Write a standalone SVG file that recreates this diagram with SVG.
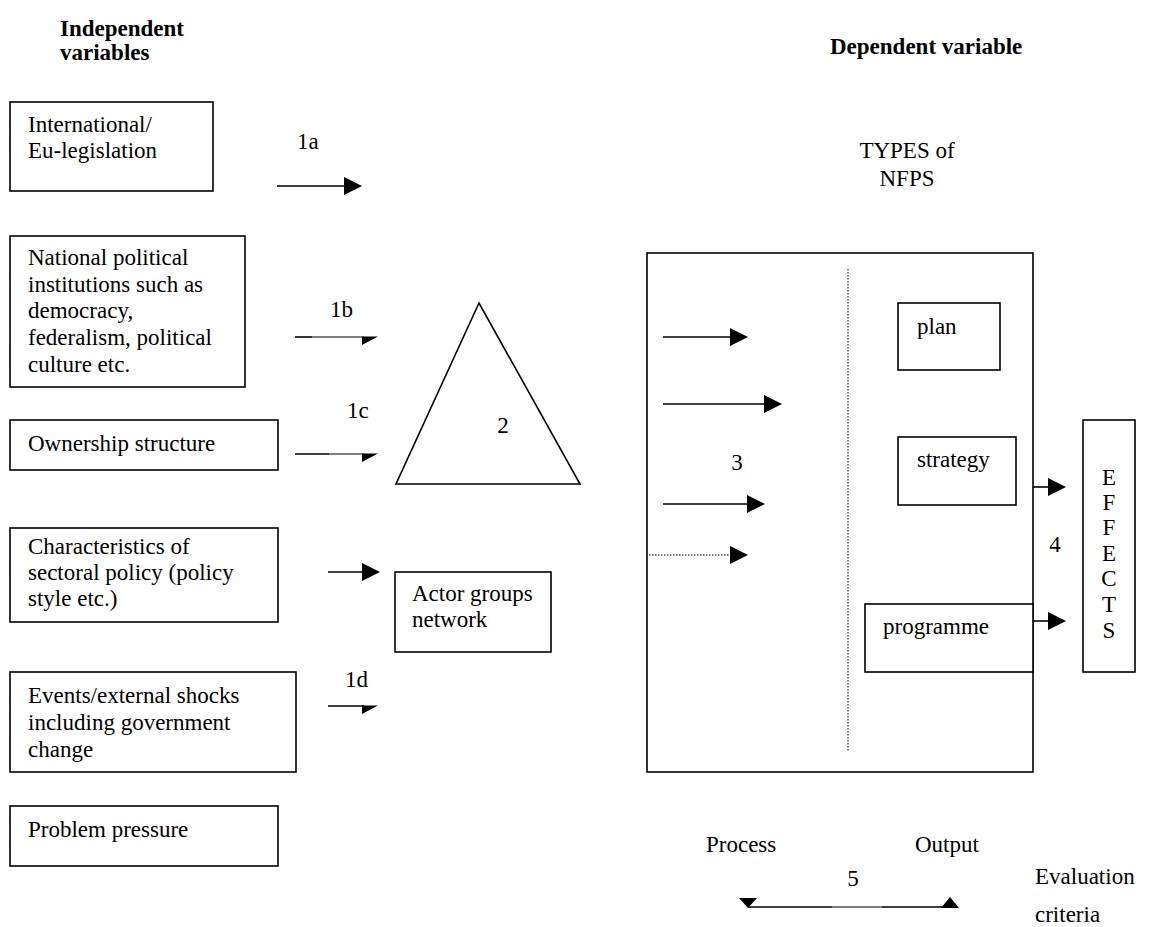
<svg xmlns="http://www.w3.org/2000/svg" width="1154" height="927" viewBox="0 0 1154 927">
<style>
text{font-family:"Liberation Serif","Times New Roman",serif;font-size:23px;fill:#000}
.b{font-weight:bold}
.box{fill:#fff;stroke:#000;stroke-width:1.6}
.ln{stroke:#000;stroke-width:1.6;fill:none}
.thin{stroke:#000;stroke-width:1;fill:none}
.dot{stroke:#000;stroke-width:1;stroke-dasharray:1.5 1.5;fill:none}
.hd{fill:#000}
.c{text-anchor:middle}
</style>
<rect width="1154" height="927" fill="#fff"/>
<g id="titles">
<text class="b" x="60" y="36">Independent</text>
<text class="b" x="60" y="60">variables</text>
<text class="b" x="830" y="54">Dependent variable</text>
</g>
<g id="n-intl"><rect class="box" x="10" y="102" width="203" height="89"/>
<text x="28" y="132">International/</text><text x="28" y="158">Eu-legislation</text></g>
<g id="n-natpol"><rect class="box" x="10" y="236" width="235" height="151"/>
<text x="28" y="265">National political</text><text x="28" y="292">institutions such as</text><text x="28" y="318">democracy,</text><text x="28" y="345">federalism, political</text><text x="28" y="372">culture etc.</text></g>
<g id="n-owner"><rect class="box" x="10" y="420" width="268" height="50"/>
<text x="28" y="451">Ownership structure</text></g>
<g id="n-sector"><rect class="box" x="10" y="528" width="268" height="94"/>
<text x="28" y="554">Characteristics of</text><text x="28" y="580">sectoral policy (policy</text><text x="28" y="606">style etc.)</text></g>
<g id="n-events"><rect class="box" x="10" y="672" width="286" height="100"/>
<text x="28" y="703">Events/external shocks</text><text x="28" y="730">including government</text><text x="28" y="757">change</text></g>
<g id="n-problem"><rect class="box" x="10" y="806" width="268" height="60"/>
<text x="28" y="837">Problem pressure</text></g>
<g id="n-triangle"><polygon class="box" points="479,303 396,484 580,484"/>
<text class="c" x="503" y="433">2</text></g>
<g id="n-actor"><rect class="box" x="395" y="572" width="156" height="80"/>
<text x="412" y="601">Actor groups</text><text x="412" y="627">network</text></g>
<g id="n-nfps">
<text class="c" x="907" y="158">TYPES of</text><text class="c" x="907" y="186">NFPS</text>
<rect class="box" x="647" y="253" width="386" height="519"/>
<line class="dot" x1="848" y1="269" x2="848" y2="752"/>
</g>
<g id="n-plan"><rect class="box" x="898" y="303" width="102" height="67"/><text x="917" y="334">plan</text></g>
<g id="n-strategy"><rect class="box" x="898" y="437" width="118" height="68"/><text x="917" y="467">strategy</text></g>
<g id="n-programme"><rect class="box" x="865" y="604" width="168" height="68"/><text x="883" y="634">programme</text></g>
<g id="n-effects"><rect class="box" x="1083" y="420" width="52" height="252"/>
<text class="c" x="1109" y="485">E</text><text class="c" x="1109" y="510">F</text><text class="c" x="1109" y="535">F</text><text class="c" x="1109" y="561">E</text><text class="c" x="1109" y="586">C</text><text class="c" x="1109" y="612">T</text><text class="c" x="1109" y="638">S</text></g>
<g id="connectors">
<text x="297" y="149">1a</text>
<line class="ln" x1="277" y1="186" x2="346" y2="186"/><polygon class="hd" points="344,177 362,186 344,195"/>
<text x="330" y="317">1b</text>
<line class="ln" x1="295" y1="337" x2="312" y2="337"/><line class="thin" x1="312" y1="337" x2="364" y2="337"/><polygon class="hd" points="362,336.5 378,336.5 362,345"/>
<text x="347" y="418">1c</text>
<line class="ln" x1="295" y1="454" x2="329" y2="454"/><line class="thin" x1="329" y1="454" x2="364" y2="454"/><polygon class="hd" points="362,453.5 378,453.5 362,462"/>
<line class="ln" x1="328" y1="572" x2="364" y2="572"/><polygon class="hd" points="362,563 380,572 362,581"/>
<text x="345" y="687">1d</text>
<line class="ln" x1="328" y1="706" x2="364" y2="706"/><polygon class="hd" points="362,705.5 378,705.5 362,714"/>
<line class="ln" x1="663" y1="337" x2="732" y2="337"/><polygon class="hd" points="730,328 748,337 730,346"/>
<line class="ln" x1="663" y1="404" x2="766" y2="404"/><polygon class="hd" points="764,395 782,404 764,413"/>
<text class="c" x="737" y="470">3</text>
<line class="ln" x1="663" y1="504" x2="749" y2="504"/><polygon class="hd" points="747,495 765,504 747,513"/>
<line class="dot" x1="649" y1="555" x2="732" y2="555"/><polygon class="hd" points="730,546 748,555 730,564"/>
<line class="ln" x1="1033" y1="487" x2="1050" y2="487"/><polygon class="hd" points="1048,478 1066,487 1048,496"/>
<line class="ln" x1="1033" y1="621" x2="1050" y2="621"/><polygon class="hd" points="1048,612 1066,621 1048,630"/>
<text class="c" x="1055" y="552">4</text>
</g>
<g id="evaluation">
<text x="706" y="852">Process</text>
<text x="915" y="852">Output</text>
<text class="c" x="853" y="886">5</text>
<line class="ln" x1="748" y1="907" x2="832" y2="907"/><line class="thin" x1="832" y1="907" x2="882" y2="907"/><line class="ln" x1="882" y1="907" x2="943" y2="907"/>
<polygon class="hd" points="739,898 757,898 748,908"/>
<polygon class="hd" points="941,908 959,908 950,897"/>
<text x="1035" y="884">Evaluation</text>
<text x="1035" y="922">criteria</text>
</g>
</svg>
